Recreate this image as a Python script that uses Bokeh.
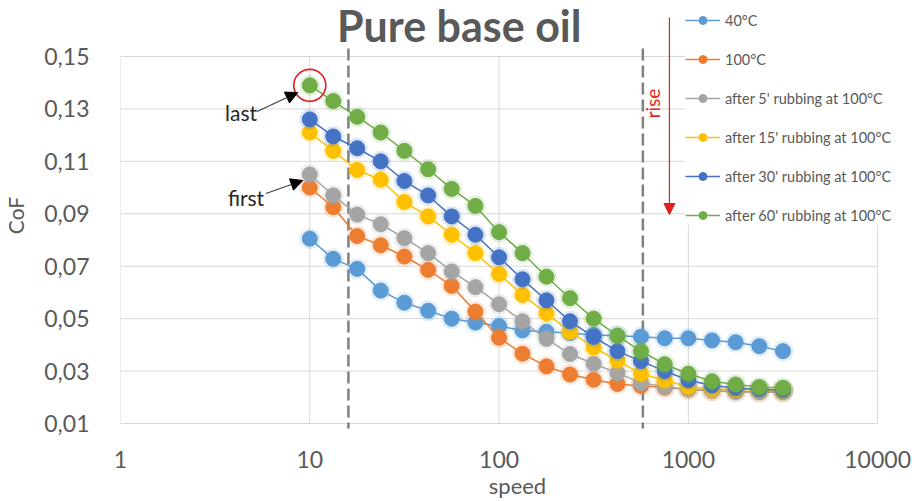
import math

from bokeh.embed import file_html
from bokeh.models import (Arrow, CustomJSTickFormatter, FixedTicker, Label,
                          Legend, LegendItem, NormalHead)
from bokeh.plotting import figure
from bokeh.resources import INLINE

# ---- data -------------------------------------------------------------
speed = [10, 13.3, 17.8, 23.7, 31.6, 42.2, 56.2, 75, 100, 133, 178, 237,
         316, 422, 562, 750, 1000, 1334, 1778, 2371, 3162]

cof_40c = [0.0805, 0.0728, 0.0690, 0.0607, 0.0561, 0.0530, 0.0500, 0.0485,
           0.0472, 0.0455, 0.0450, 0.0445, 0.0438, 0.0435, 0.0431, 0.0425,
           0.0425, 0.0417, 0.0410, 0.0395, 0.0376]
cof_100c = [0.1000, 0.0925, 0.0815, 0.0780, 0.0737, 0.0686, 0.0625, 0.0527,
            0.0427, 0.0366, 0.0318, 0.0287, 0.0267, 0.0251, 0.0243, 0.0237,
            0.0230, 0.0225, 0.0222, 0.0220, 0.0220]
cof_5min = [0.1050, 0.0970, 0.0897, 0.0860, 0.0807, 0.0750, 0.0680, 0.0620,
            0.0555, 0.0490, 0.0423, 0.0365, 0.0328, 0.0293, 0.0255, 0.0240,
            0.0230, 0.0225, 0.0220, 0.0220, 0.0220]
cof_15min = [0.1210, 0.1140, 0.1067, 0.1030, 0.0945, 0.0890, 0.0820, 0.0750,
             0.0670, 0.0590, 0.0520, 0.0450, 0.0390, 0.0340, 0.0290, 0.0265,
             0.0240, 0.0232, 0.0230, 0.0228, 0.0225]
cof_30min = [0.1260, 0.1195, 0.1150, 0.1100, 0.1025, 0.0970, 0.0890, 0.0820,
             0.0734, 0.0650, 0.0570, 0.0490, 0.0430, 0.0376, 0.0338, 0.0300,
             0.0265, 0.0245, 0.0235, 0.0230, 0.0228]
cof_60min = [0.1390, 0.1330, 0.1270, 0.1210, 0.1140, 0.1070, 0.0995, 0.0930,
             0.0830, 0.0750, 0.0660, 0.0578, 0.0500, 0.0434, 0.0376, 0.0326,
             0.0290, 0.0261, 0.0249, 0.0239, 0.0236]

series_labels = ["40°C", "100°C", "after 5' rubbing at 100°C",
                 "after 15' rubbing at 100°C", "after 30' rubbing at 100°C",
                 "after 60' rubbing at 100°C"]
series_values = [cof_40c, cof_100c, cof_5min, cof_15min, cof_30min, cof_60min]
series_colors = ["#5B9BD5", "#ED7D31", "#A5A5A5", "#FFC000", "#4472C4", "#70AD47"]

x_ticks = [1, 10, 100, 1000, 10000]
y_ticks = [0.01, 0.03, 0.05, 0.07, 0.09, 0.11, 0.13, 0.15]

# regime boundaries (dashed markers on the speed axis)
boundaries = [16, 575]

# ---- geometry ---------------------------------------------------------
FONT = "Lato"
GREY = "#595959"
W, H = 914, 501
X_MIN, X_MAX, Y_MIN, Y_MAX = 1, 10000, 0.01, 0.15

# gridded plot area in canvas pixels
PLOT_L, PLOT_R, PLOT_T, PLOT_B = 117, 877, 56, 423
# the drawing frame is larger, so title and legend can sit inside it
FRAME_B = 430

DEC_PX = (PLOT_R - PLOT_L) / math.log10(X_MAX / X_MIN)
COF_PER_PX = (Y_MAX - Y_MIN) / (PLOT_B - PLOT_T)


def px_x(px):
    """Horizontal canvas pixel -> speed value (log axis)."""
    return X_MIN * 10 ** ((px - PLOT_L) / DEC_PX)


def px_y(py):
    """Vertical canvas pixel -> CoF value."""
    return Y_MAX - (py - PLOT_T) * COF_PER_PX


p = figure(width=W, height=H, x_axis_type="log",
           x_range=(X_MIN, px_x(W)), y_range=(px_y(FRAME_B), px_y(0)),
           output_backend="svg", toolbar_location=None,
           min_border_left=PLOT_L, min_border_right=0,
           min_border_top=0, min_border_bottom=H - FRAME_B)
p.outline_line_color = None
p.background_fill_color = "white"
p.border_fill_color = "white"

# axes
p.xaxis.ticker = FixedTicker(ticks=x_ticks)
p.xaxis.formatter = CustomJSTickFormatter(code="return tick.toFixed(0);")
p.yaxis.ticker = FixedTicker(ticks=y_ticks)
p.yaxis.formatter = CustomJSTickFormatter(
    code="return tick.toFixed(2).replace('.', ',');")

for ax in (p.xaxis, p.yaxis):
    ax.axis_line_color = None
    ax.major_tick_line_color = None
    ax.minor_tick_line_color = None
    ax.major_label_text_font = FONT
    ax.major_label_text_font_size = "23px"
    ax.major_label_text_color = GREY
    ax.axis_label_text_font = FONT
    ax.axis_label_text_font_style = "normal"
    ax.axis_label_text_color = GREY

p.xaxis.axis_label = "speed"
p.xaxis.axis_label_text_font_size = "22px"
p.xaxis.major_label_standoff = 14
p.xaxis.axis_label_standoff = 1
p.yaxis.axis_label = "CoF"
p.yaxis.axis_label_text_font_size = "21px"
p.yaxis.major_label_standoff = 25
p.yaxis.axis_label_standoff = 13

# grid limited to the gridded area
p.xgrid.visible = False
p.ygrid.visible = False
p.segment(x0=x_ticks, y0=[Y_MIN] * len(x_ticks), x1=x_ticks,
          y1=[Y_MAX] * len(x_ticks), line_color="#D9D9D9", line_width=1)
p.segment(x0=[X_MIN] * len(y_ticks), y0=y_ticks, x1=[X_MAX] * len(y_ticks),
          y1=y_ticks, line_color="#D9D9D9", line_width=1)

# dashed boundary lines, running slightly past the gridded area
p.segment(x0=boundaries, y0=[px_y(48)] * len(boundaries),
          x1=boundaries, y1=[px_y(428)] * len(boundaries),
          line_color="#808080", line_width=2.5, line_dash="12 5")

# ---- series -----------------------------------------------------------
legend_items = []
for label, vals, color in zip(series_labels, series_values, series_colors):
    p.scatter(speed, vals, size=21, fill_color=color, fill_alpha=0.18,
              line_color=None)
    ln = p.line(speed, vals, line_color=color, line_width=1.5)
    mk = p.scatter(speed, vals, size=15, fill_color=color, line_color=color,
                   line_width=1)
    legend_items.append(LegendItem(label=label, renderers=[ln, mk]))

# highlight of the last run's first point
p.scatter([speed[0]], [cof_60min[0]], size=32, fill_color=None,
          line_color="#E02020", line_width=1.6)

legend = Legend(items=legend_items, location=(682 - PLOT_L, FRAME_B - 225),
                orientation="vertical", glyph_width=35, glyph_height=20,
                label_height=20, spacing=19, padding=6, margin=0,
                label_standoff=5, label_text_font=FONT,
                label_text_font_size="14.5px", label_text_color=GREY,
                background_fill_color="white", background_fill_alpha=1.0,
                border_line_color=None)
p.add_layout(legend, "center")

# ---- annotations ------------------------------------------------------
p.add_layout(Label(x=px_x(457), y=px_y(25), text="Pure base oil",
                   text_align="center", text_baseline="middle",
                   text_font=FONT, text_font_style="bold",
                   text_font_size="43px", text_color=GREY))

p.add_layout(Arrow(x_start=px_x(668), y_start=px_y(17),
                   x_end=px_x(668), y_end=px_y(214),
                   line_color="#E02020", line_width=1.2,
                   end=NormalHead(size=11, fill_color="#E02020",
                                  line_color="#E02020")))
p.add_layout(Label(x=px_x(651), y=px_y(103), text="rise", angle=math.pi / 2,
                   text_align="center", text_baseline="middle",
                   text_font=FONT, text_font_size="19px",
                   text_color="#E8261E"))

p.add_layout(Label(x=px_x(238), y=px_y(112), text="last",
                   text_align="center", text_baseline="middle",
                   text_font=FONT, text_font_size="21px",
                   text_color="#262626"))
p.add_layout(Arrow(x_start=px_x(254), y_start=px_y(111),
                   x_end=px_x(295), y_end=px_y(92),
                   line_color="#404040", line_width=1.3,
                   end=NormalHead(size=12, fill_color="black",
                                  line_color="black")))

p.add_layout(Label(x=px_x(243), y=px_y(197), text="first",
                   text_align="center", text_baseline="middle",
                   text_font=FONT, text_font_size="21px",
                   text_color="#262626"))
p.add_layout(Arrow(x_start=px_x(263), y_start=px_y(193),
                   x_end=px_x(300), y_end=px_y(180),
                   line_color="#404040", line_width=1.3,
                   end=NormalHead(size=12, fill_color="black",
                                  line_color="black")))

open("out.html", "w").write(file_html(p, INLINE))
